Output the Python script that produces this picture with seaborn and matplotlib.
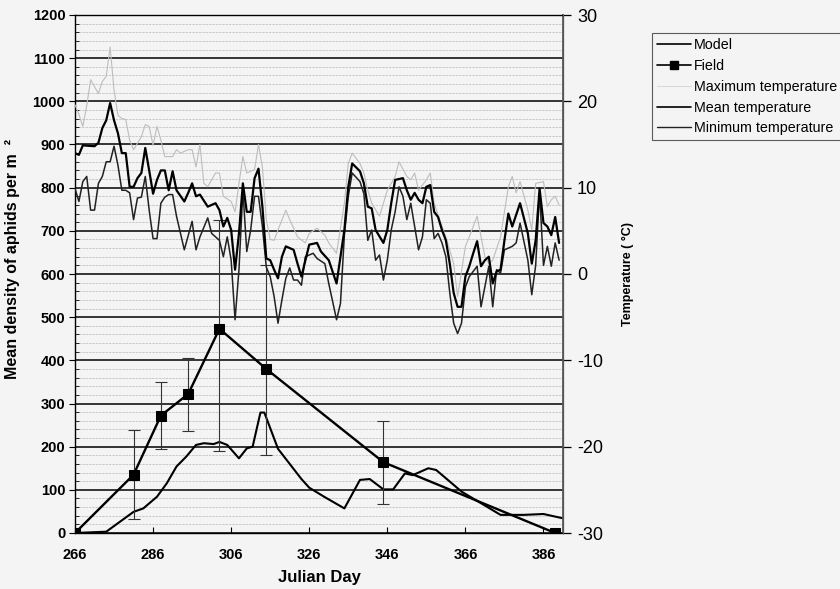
import matplotlib
matplotlib.use("Agg")
import matplotlib.pyplot as plt
import seaborn as sns
import pandas as pd
from matplotlib.ticker import MultipleLocator
from matplotlib.lines import Line2D

# ---------------- data ----------------
field_days = [266, 281, 288, 295, 303, 315, 345, 389]
field_vals = [0, 135, 272, 322, 473, 380, 164, 0]
field_low = [0, 33, 194, 237, 191, 180, 67, 0]
field_high = [0, 238, 349, 405, 725, 620, 260, 0]

model_days = [266, 274, 281, 283.5, 287, 289.5, 292, 294.5, 297, 299, 301.5, 303, 305,
              308, 310, 311.5, 313.5, 314.5, 318, 324, 326, 330, 335, 339, 341.5, 345,
              347.5, 350.5, 352.5, 356.5, 358.5, 361.5, 365, 370, 375, 381, 386, 391]
model_vals = [0, 3, 49, 57, 84, 115, 154, 177, 204, 208, 206, 211, 204,
              173, 196, 200, 279, 279, 195, 125, 105, 83, 57, 123, 125, 101,
              101, 138, 134, 150, 146, 123, 96, 69, 42, 42, 44, 34]

max_days = [266, 267, 268, 269, 270, 271, 272, 273, 274, 275, 276, 277, 278, 279, 280, 281,
            283, 284, 285, 286, 287, 288, 289, 291, 292, 293, 295, 296, 297, 298, 299, 300,
            302, 303, 304, 306, 307, 308, 309, 310, 312, 313, 314, 315, 316, 317, 318, 320,
            321, 323, 325, 326, 328, 330, 331, 333, 335, 336, 337, 339, 340, 341, 342, 344,
            346, 348, 349, 351, 352, 353, 354, 356, 357, 358, 360, 361, 363, 364, 366, 367,
            369, 371, 372, 373, 375, 377, 378, 379, 380, 382, 383, 384, 386, 387, 388, 389, 390]
max_vals = [19.6, 18.5, 17.1, 19.5, 22.5, 21.7, 20.9, 22.3, 22.9, 26.3, 21.3, 18.4, 18.0, 17.9, 15.5, 14.4,
            15.9, 17.3, 17.1, 14.9, 17.1, 15.5, 13.6, 13.6, 14.4, 14.0, 14.4, 14.4, 12.4, 15.0, 10.5, 10.1,
            11.7, 11.7, 9.0, 8.4, 7.2, 10.5, 13.6, 11.7, 12.1, 15.0, 12.4, 6.3, 4.0, 3.9, 5.1, 7.4,
            6.3, 4.3, 3.6, 4.7, 5.3, 4.5, 3.6, 2.4, 8.2, 12.8, 14.0, 12.8, 11.7, 9.7, 8.2, 6.7,
            9.7, 11.3, 13.0, 11.3, 10.9, 11.7, 9.7, 10.9, 11.7, 8.2, 5.5, 4.3, 1.2, -2.6, 3.2, 4.3,
            6.7, 2.0, 1.2, 1.6, 4.3, 10.1, 11.3, 9.4, 10.7, 7.4, 5.1, 10.5, 10.7, 7.8, 8.6, 9.0, 8.0]

mean_days = [266, 267, 268, 271, 272, 273, 274, 275, 276, 277, 278, 279, 280, 281, 282, 283,
             284, 285, 286, 287, 288, 289, 290, 291, 292, 294, 295, 296, 297, 298, 300, 301,
             302, 303, 304, 305, 306, 307, 308, 309, 310, 311, 312, 313, 314, 315, 316, 317,
             318, 319, 320, 322, 323, 324, 326, 328, 329, 331, 333, 335, 336, 337, 339, 340,
             341, 342, 343, 345, 346, 347, 348, 350, 351, 352, 353, 354, 355, 356, 357, 358,
             359, 360, 361, 362, 363, 364, 365, 366, 367, 368, 369, 370, 371, 372, 373, 374,
             375, 376, 377, 378, 380, 382, 383, 384, 385, 386, 387, 388, 389, 390]
mean_vals = [14.0, 13.8, 14.9, 14.8, 15.2, 16.9, 17.8, 19.8, 17.8, 16.3, 14.0, 14.0, 10.1, 10.1, 11.1, 11.7,
             14.6, 12.0, 9.3, 10.9, 12.0, 12.0, 9.7, 11.9, 9.7, 8.4, 9.4, 10.5, 9.0, 9.2, 7.8, 8.0,
             8.2, 7.4, 5.5, 6.5, 5.1, 0.5, 4.7, 10.5, 7.2, 7.2, 11.1, 12.2, 7.8, 1.8, 1.6, 0.5,
             -0.5, 2.0, 3.2, 2.8, 1.2, -0.3, 3.4, 3.6, 2.6, 1.6, -1.1, 5.1, 10.1, 12.8, 11.9, 10.5,
             7.8, 7.6, 5.1, 3.6, 5.1, 8.2, 10.9, 11.1, 9.7, 8.6, 9.4, 8.6, 8.2, 10.1, 10.3, 7.2,
             6.6, 5.1, 3.9, 1.2, -2.2, -3.8, -3.8, -0.3, 0.9, 2.4, 3.8, 0.9, 1.6, 2.0, -1.1, 0.3,
             0.5, 3.9, 7.0, 5.5, 8.2, 4.7, 1.2, 3.9, 9.9, 5.9, 5.5, 4.5, 6.6, 3.6]

min_days = [266, 267, 268, 269, 270, 271, 272, 273, 274, 275, 276, 277, 278, 279, 280, 281,
            282, 283, 284, 285, 286, 287, 288, 289, 290, 291, 292, 294, 296, 297, 298, 300,
            301, 303, 304, 305, 306, 307, 308, 309, 310, 311, 312, 313, 314, 315, 316, 317,
            318, 319, 320, 321, 322, 323, 324, 325, 327, 328, 330, 331, 333, 334, 335, 336,
            337, 339, 340, 341, 342, 343, 344, 345, 346, 347, 348, 349, 350, 351, 352, 354,
            355, 356, 357, 358, 359, 360, 361, 362, 363, 364, 365, 366, 367, 369, 370, 372,
            373, 374, 375, 376, 378, 379, 380, 382, 383, 384, 385, 386, 387, 388, 389, 390]
min_vals = [9.9, 8.4, 10.7, 11.3, 7.4, 7.4, 10.5, 11.3, 13.0, 13.0, 14.8, 12.6, 9.7, 9.7, 9.4, 6.3,
            8.8, 8.9, 11.3, 7.4, 4.1, 4.1, 8.2, 8.9, 9.2, 9.2, 6.7, 2.8, 6.1, 2.8, 4.3, 6.5,
            4.7, 3.9, 2.0, 4.3, 1.6, -5.3, 0.5, 9.7, 2.6, 5.1, 9.0, 9.0, 5.5, 0.8, -0.3, -2.6,
            -5.7, -3.0, -0.5, 0.7, -0.7, -0.7, -1.3, 2.0, 2.4, 1.8, 1.2, -1.1, -5.3, -3.4, 4.5, 9.0,
            11.7, 10.7, 9.3, 3.9, 5.1, 1.6, 2.2, -0.7, 1.6, 5.1, 7.2, 10.1, 9.0, 6.3, 8.2, 2.8,
            4.3, 8.6, 8.2, 4.1, 4.7, 3.6, 2.0, -2.2, -5.7, -6.9, -5.7, -1.5, -0.3, 0.9, -3.8, 0.9,
            -3.8, 0.5, 0.1, 2.8, 3.2, 3.6, 5.9, 1.6, -2.4, 1.0, 9.5, 1.0, 3.2, 0.9, 3.6, 1.6]

x_ticks = [266, 286, 306, 326, 346, 366, 386]

# ---------------- style ----------------
sns.set_theme(style="white")
plt.rcParams['font.family'] = ['Liberation Sans', 'DejaVu Sans']
plt.rcParams['axes.unicode_minus'] = False
BG = '#f4f4f4'

fig = plt.figure(figsize=(8.4, 5.89), dpi=100, facecolor=BG)
ax = fig.add_axes([75 / 840, 1 - 533 / 589, (563 - 75) / 840, (533 - 15) / 589])
ax.set_facecolor(BG)
ax2 = ax.twinx()

# grid
ax.yaxis.set_major_locator(MultipleLocator(100))
ax.yaxis.set_minor_locator(MultipleLocator(20))
ax.grid(which='major', axis='y', color='black', lw=1.1)
ax.grid(which='minor', axis='y', color='#c4c4c4', lw=0.6, ls=(0, (3, 1)))
ax.grid(which='both', axis='x', visible=False)
ax.set_axisbelow(True)

# model & field
sns.lineplot(x=model_days, y=model_vals, ax=ax, color='black', lw=1.5,
             estimator=None, sort=False, legend=False)
err_low = [v - lo for v, lo in zip(field_vals, field_low)]
err_high = [hi - v for v, hi in zip(field_vals, field_high)]
ax.errorbar(field_days, field_vals, yerr=[err_low, err_high], fmt='none',
            ecolor='#333333', elinewidth=0.8, capsize=4.5, capthick=0.8, zorder=2)
sns.lineplot(x=field_days, y=field_vals, ax=ax, color='black', lw=1.7,
             marker='s', markersize=6.5, markeredgecolor='black',
             estimator=None, sort=False, legend=False)

# temperatures
sns.lineplot(x=max_days, y=max_vals, ax=ax2, color='#bdbdbd', lw=0.8,
             estimator=None, sort=False, legend=False)
sns.lineplot(x=min_days, y=min_vals, ax=ax2, color='#222222', lw=1.1,
             estimator=None, sort=False, legend=False)
sns.lineplot(x=mean_days, y=mean_vals, ax=ax2, color='black', lw=1.6,
             estimator=None, sort=False, legend=False)

# axes limits/ticks
ax.set_xlim(266, 391)
ax.set_ylim(0, 1200)
ax2.set_ylim(-30, 30)
ax.set_xticks(x_ticks)
ax.set_xticklabels([str(t) for t in x_ticks], fontweight='bold', fontsize=10.5)
ax.tick_params(axis='x', which='major', direction='in', length=4, width=0.8,
               bottom=True, pad=11, colors='black')
ax.tick_params(axis='y', which='major', direction='out', length=4, width=0.8,
               left=True, labelsize=10.5, colors='black', pad=3)
ax.tick_params(axis='y', which='minor', direction='in', length=3, width=0.7, left=True)
for lab in ax.get_yticklabels():
    lab.set_fontweight('bold')
ax2.set_yticks([-30, -20, -10, 0, 10, 20, 30])
ax2.tick_params(axis='y', direction='out', length=6, width=0.9, right=True,
                labelsize=13, colors='black', pad=4)
ax2.grid(False)

for sp in ['left', 'bottom', 'top']:
    ax.spines[sp].set_color('black')
    ax.spines[sp].set_linewidth(1.0)
ax.spines['right'].set_color('#555555')
for sp in ax2.spines.values():
    sp.set_visible(False)
ax2.spines['right'].set_visible(True)
ax2.spines['right'].set_color('#555555')
ax2.spines['right'].set_linewidth(0.9)

# labels
ax.set_ylabel('Mean density of aphids per m  \u00b2', fontsize=11.5, fontweight='bold', color='black')
ax.yaxis.set_label_coords(-0.113, 0.53)
ax.set_xlabel('Julian Day', fontsize=12, fontweight='bold', color='black')
ax.xaxis.set_label_coords(0.5, -0.072)
ax2.set_ylabel('Temperature ( \u00b0C)', fontsize=9, fontweight='bold', color='black')
ax2.yaxis.set_label_coords(1.121, 0.5)

# legend
handles = [
    Line2D([], [], color='black', lw=1.2),
    Line2D([], [], color='black', lw=1.2, marker='s', markersize=6),
    Line2D([], [], color='#d8d8d8', lw=0.8),
    Line2D([], [], color='black', lw=1.2),
    Line2D([], [], color='#222222', lw=1.0),
]
labels = ['Model', 'Field', 'Maximum temperature', 'Mean temperature', 'Minimum temperature']
leg = fig.legend(handles, labels, loc='upper left', bbox_to_anchor=(652 / 840, 1 - 33 / 589),
                 frameon=True, fancybox=False, edgecolor='#333333', facecolor=BG,
                 fontsize=10.3, handlelength=2.4, handletextpad=0.2, labelspacing=0.48,
                 borderpad=0.35, borderaxespad=0)
leg.get_frame().set_linewidth(0.8)
for t in leg.get_texts():
    t.set_color('black')

fig.savefig('out.png', dpi=100, facecolor=BG)
